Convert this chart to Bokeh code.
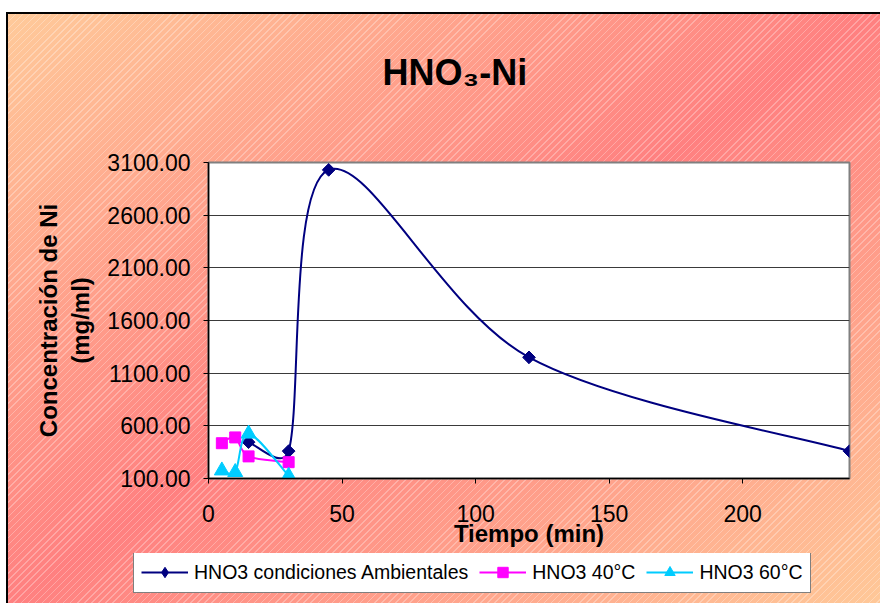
import math
from bokeh.plotting import figure
from bokeh.layouts import column
from bokeh.models import (Range1d, FixedTicker, NumeralTickFormatter, ColumnDataSource,
                          Legend, LegendItem, Title)
from bokeh.embed import file_html
from bokeh.resources import INLINE

# ---------------- data ----------------
title_text = "HNO₃-Ni"
x_label = "Tiempo (min)"
y_label = "Concentración de Ni\n(mg/ml)"
series_names = ["HNO3 condiciones Ambientales", "HNO3 40°C", "HNO3 60°C"]

time_amb = [15, 30, 45, 120, 240]
conc_amb = [445, 360, 3030, 1250, 360]

time_40 = [5, 10, 15, 30]
conc_40 = [435, 490, 310, 255]

time_60 = [5, 10, 15, 30]
conc_60 = [175, 160, 525, 125]

x_ticks = [0, 50, 100, 150, 200]
y_ticks = [100, 600, 1100, 1600, 2100, 2600, 3100]

# ---------------- layout ----------------
W = 880
H_MAIN, H_LEG = 553, 50
LEFT, RIGHT, TOP = 208, 31, 162
FRAME_BOTTOM = 478
BOTTOM = H_MAIN - FRAME_BOTTOM
X0, X1 = 0, 240
Y0, Y1 = 100, 3100
FW, FH = W - LEFT - RIGHT, FRAME_BOTTOM - TOP
FONT = "Liberation Sans"


def smooth_segments(xs, ys):
    """Excel-like smoothed line: cubic Bezier segments (Catmull-Rom tangents,
    clamped to half the chord, computed in pixel space)."""
    sx = FW / (X1 - X0)
    sy = FH / (Y1 - Y0)
    px = [x * sx for x in xs]
    py = [y * sy for y in ys]
    n = len(xs)
    out = dict(x0=[], y0=[], x1=[], y1=[], cx0=[], cy0=[], cx1=[], cy1=[])
    for i in range(n - 1):
        a, b, c, d = max(i - 1, 0), i, i + 1, min(i + 2, n - 1)
        L = math.hypot(px[c] - px[b], py[c] - py[b])
        t1 = [(px[c] - px[a]) / 6.0, (py[c] - py[a]) / 6.0]
        t2 = [(px[d] - px[b]) / 6.0, (py[d] - py[b]) / 6.0]
        for t in (t1, t2):
            ln = math.hypot(t[0], t[1])
            if ln > L / 2 and ln > 0:
                t[0] *= (L / 2) / ln
                t[1] *= (L / 2) / ln
        out["x0"].append(xs[b]); out["y0"].append(ys[b])
        out["x1"].append(xs[c]); out["y1"].append(ys[c])
        out["cx0"].append((px[b] + t1[0]) / sx); out["cy0"].append((py[b] + t1[1]) / sy)
        out["cx1"].append((px[c] - t2[0]) / sx); out["cy1"].append((py[c] - t2[1]) / sy)
    return ColumnDataSource(out)


p = figure(width=W, height=H_MAIN, output_backend="svg", toolbar_location=None,
           x_range=Range1d(X0, X1), y_range=Range1d(Y0, Y1),
           min_border_left=LEFT, min_border_right=RIGHT,
           min_border_top=TOP, min_border_bottom=BOTTOM)
p.frame_align = False
p.border_fill_color = None
p.background_fill_color = "white"
p.outline_line_color = "#808080"
p.outline_line_width = 2

# axes
p.xaxis.ticker = FixedTicker(ticks=x_ticks)
p.yaxis.ticker = FixedTicker(ticks=y_ticks)
p.yaxis.formatter = NumeralTickFormatter(format="0.00")
p.xgrid.grid_line_color = None
p.ygrid.ticker = FixedTicker(ticks=y_ticks)
p.ygrid.grid_line_color = "#3a3a3a"
p.ygrid.grid_line_width = 1

for ax in (p.xaxis[0], p.yaxis[0]):
    ax.axis_line_color = "black"
    ax.axis_line_width = 1.5
    ax.major_tick_line_color = "black"
    ax.major_tick_line_width = 1
    ax.major_tick_out = 5
    ax.major_tick_in = 0
    ax.minor_tick_line_color = None
    ax.major_label_text_font = FONT
    ax.major_label_text_font_size = "23px"
    ax.major_label_text_color = "black"
    ax.axis_label_text_font = FONT
    ax.axis_label_text_font_size = "24px"
    ax.axis_label_text_font_style = "bold"
    ax.axis_label_text_color = "black"

p.xaxis.axis_label = x_label
p.yaxis.axis_label = y_label
p.yaxis.major_label_standoff = 13
p.yaxis.axis_label_standoff = 10
p.xaxis.major_label_standoff = 21
p.xaxis.axis_label_standoff = -5

# title: a blank spacer title next to the frame, then the real title above it
p.add_layout(Title(text=" ", text_font_size="10px", standoff=52), "above")
p.add_layout(Title(text=title_text, align="left", offset=174, vertical_align="bottom",
                   standoff=10, text_font=FONT, text_font_size="36px",
                   text_font_style="bold", text_color="black"), "above")

# legend strip (separate figure so the legend box is not clipped by the plot frame);
# its ranges lie away from the data, so its key renderers draw nothing in the strip
lg = figure(width=W, height=H_LEG, output_backend="svg", toolbar_location=None,
            x_axis_location=None, y_axis_location=None,
            x_range=Range1d(-2, -1), y_range=Range1d(-2, -1),
            min_border_left=0, min_border_right=0, min_border_top=0, min_border_bottom=0)
lg.frame_align = False
lg.border_fill_color = None
lg.background_fill_color = None
lg.outline_line_color = None
lg.xgrid.visible = False
lg.ygrid.visible = False

# series: (x, y, colour, plot marker, legend marker)
styles = [
    (time_amb, conc_amb, "#000080", dict(marker="square", angle=math.pi / 4, size=9),
     dict(marker="diamond", size=14)),
    (time_40, conc_40, "#FF00FF", dict(marker="square", size=11),
     dict(marker="square", size=11)),
    (time_60, conc_60, "#00CCFF", dict(marker="triangle", size=15),
     dict(marker="triangle", size=15)),
]
items = []
for (xs, ys, col, mk, lmk), name in zip(styles, series_names):
    src = smooth_segments(xs, ys)
    p.bezier(x0="x0", y0="y0", x1="x1", y1="y1", cx0="cx0", cy0="cy0",
             cx1="cx1", cy1="cy1", source=src, line_color=col, line_width=2)
    p.scatter(x=xs, y=ys, fill_color=col, line_color=col, **mk)
    kl = lg.line(x=xs, y=ys, line_color=col, line_width=2)
    ks = lg.scatter(x=xs, y=ys, fill_color=col, line_color=col, **lmk)
    items.append(LegendItem(label=name, renderers=[kl, ks]))

legend = Legend(items=items, orientation="horizontal", location=(133, 10),
                label_text_font=FONT, label_text_font_size="19.5px",
                label_text_color="black", glyph_width=47, glyph_height=26,
                label_height=20, label_standoff=6, spacing=11, padding=7, margin=0,
                border_line_color="black", border_line_width=1,
                background_fill_color="white", background_fill_alpha=1)
lg.add_layout(legend, "center")

bg = ("linear-gradient(#000,#000) 6px 12px / 2px calc(100% - 12px) no-repeat, "
      "linear-gradient(#000,#000) 6px 12px / calc(100% - 6px) 2px no-repeat, "
      "repeating-linear-gradient(135deg, rgba(255,255,255,0.28) 0px, rgba(255,255,255,0.28) 1px, "
      "transparent 1px, transparent 5px) 8px 14px / calc(100% - 8px) calc(100% - 14px) no-repeat, "
      "linear-gradient(to bottom right, #FFCA9A 0%, #FF8080 50%, #FFC898 100%) 8px 14px / "
      "calc(100% - 8px) calc(100% - 14px) no-repeat, #FFFFFF")
page = column(p, lg, spacing=0, styles={"background": bg})

open("out.html", "w").write(file_html(page, INLINE))
